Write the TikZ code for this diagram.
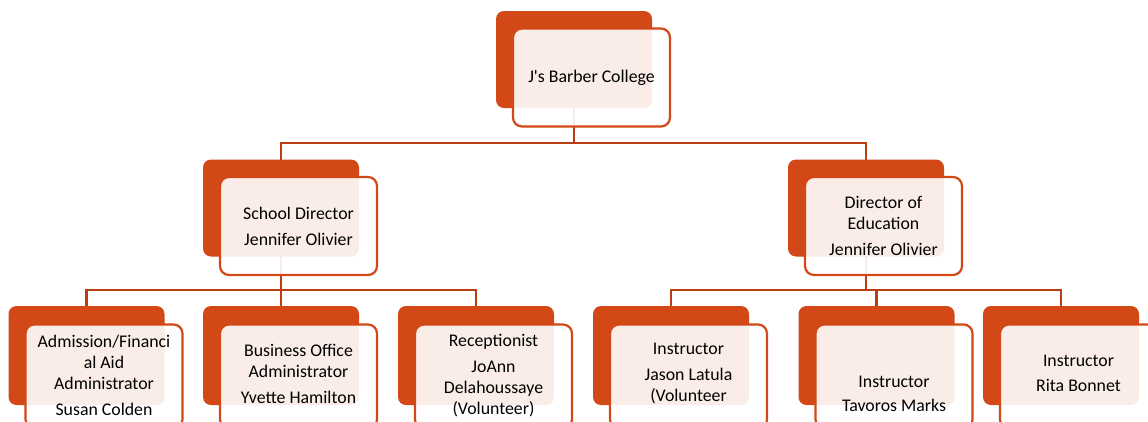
\documentclass[tikz,border=0pt]{standalone}
\usepackage{fontspec}
\setmainfont{Carlito}
\usetikzlibrary{positioning, calc, backgrounds}
\definecolor{barberorange}{RGB}{210, 72, 22}
\definecolor{linkorange}{RGB}{186, 62, 18}

\begin{document}
\begin{tikzpicture}[x=1pt, y=-1pt,
  backbox/.style={fill=barberorange, rounded corners=8pt, minimum width=156pt, minimum height=97pt, inner sep=0pt},
  frontbox/.style={draw=barberorange, line width=2.2pt, fill=white, fill opacity=0.9, rounded corners=9pt, minimum width=157pt, minimum height=98pt, inner sep=0pt},
  lowbox/.style={frontbox, minimum height=104pt},
  lbl/.style={font=\fontsize{17.8}{21}\selectfont, align=center, inner sep=0pt},
  link/.style={draw=linkorange, line width=2.2pt}]
  \clip (0,0) rectangle (1148,421);

  % Bus levels
  \coordinate (busA) at (0,143);
  \coordinate (busB) at (0,290);

  % Top unit
  \node[backbox] (college-b) at (574, 59.5) {};
  \node[frontbox] (college-f) at ($(college-b)+(17.5,18)$) {};
  \node[lbl] (college-t) at (college-f) {J\textquotesingle s Barber College};

  % Second level
  \node[backbox] (school-b) at (281, 208) {};
  \node[frontbox] (school-f) at ($(school-b)+(17.5,18)$) {};
  \node[lbl] (school-t) at (school-f) {School Director\\[5pt]Jennifer Olivier};

  \node[backbox] (edu-b) at (866, 208) {};
  \node[frontbox] (edu-f) at ($(edu-b)+(17.5,18)$) {};
  \node[lbl] (edu-t) at (edu-f) {Director of\\Education\\[5pt]Jennifer Olivier};

  % Third level, school side
  \node[backbox, minimum height=99pt] (admis-b) at (86.5, 355.5) {};
  \node[lowbox] (admis-f) at ($(admis-b)+(17.5,21)$) {};
  \node[lbl] (admis-t) at ($(admis-b)+(17.5,20)$) {Admission/Financi\\al Aid\\Administrator\\[5pt]Susan Colden};

  \node[backbox, minimum height=99pt] (bizoff-b) at (281, 355.5) {};
  \node[lowbox] (bizoff-f) at ($(bizoff-b)+(17.5,21)$) {};
  \node[lbl] (bizoff-t) at ($(bizoff-b)+(17.5,18)$) {Business Office\\Administrator\\[5pt]Yvette Hamilton};

  \node[backbox, minimum height=99pt] (recep-b) at (476, 355.5) {};
  \node[lowbox] (recep-f) at ($(recep-b)+(17.5,21)$) {};
  \node[lbl] (recep-t) at ($(recep-b)+(17.5,20)$) {Receptionist\\[5pt]JoAnn\\Delahoussaye\\(Volunteer)};

  % Third level, education side
  \node[backbox, minimum height=99pt] (ins1-b) at (671, 355.5) {};
  \node[lowbox] (ins1-f) at ($(ins1-b)+(17.5,21)$) {};
  \node[lbl] (ins1-t) at ($(ins1-b)+(17.5,18)$) {Instructor\\[5pt]Jason Latula\\(Volunteer};

  \node[backbox, minimum height=99pt] (ins2-b) at (876.5, 355.5) {};
  \node[lowbox] (ins2-f) at ($(ins2-b)+(17.5,21)$) {};
  \node[lbl] (ins2-t) at ($(ins2-b)+(17.5,38)$) {Instructor\\[3pt]Tavoros Marks};

  \node[backbox, minimum height=99pt] (ins3-b) at (1061, 355.5) {};
  \node[lowbox] (ins3-f) at ($(ins3-b)+(17.5,21)$) {};
  \node[lbl] (ins3-t) at ($(ins3-b)+(17.5,18)$) {Instructor\\[4pt]Rita Bonnet};

  % Connectors
  \begin{scope}[on background layer]
    \draw[link] (college-b.center) -- (college-b.center |- busA);
    \draw[link] (school-b.center) |- (college-b.center |- busA) -| (edu-b.center);
    \draw[link] (admis-b.center) |- (school-b.center |- busB) -| (recep-b.center);
    \draw[link] (school-b.center) -- (bizoff-b.center);
    \draw[link] (ins1-b.center) |- (edu-b.center |- busB) -| (ins3-b.center);
    \draw[link] (edu-b.center) -- (edu-b.center |- busB) -| (ins2-b.center);
  \end{scope}
\end{tikzpicture}
\end{document}
